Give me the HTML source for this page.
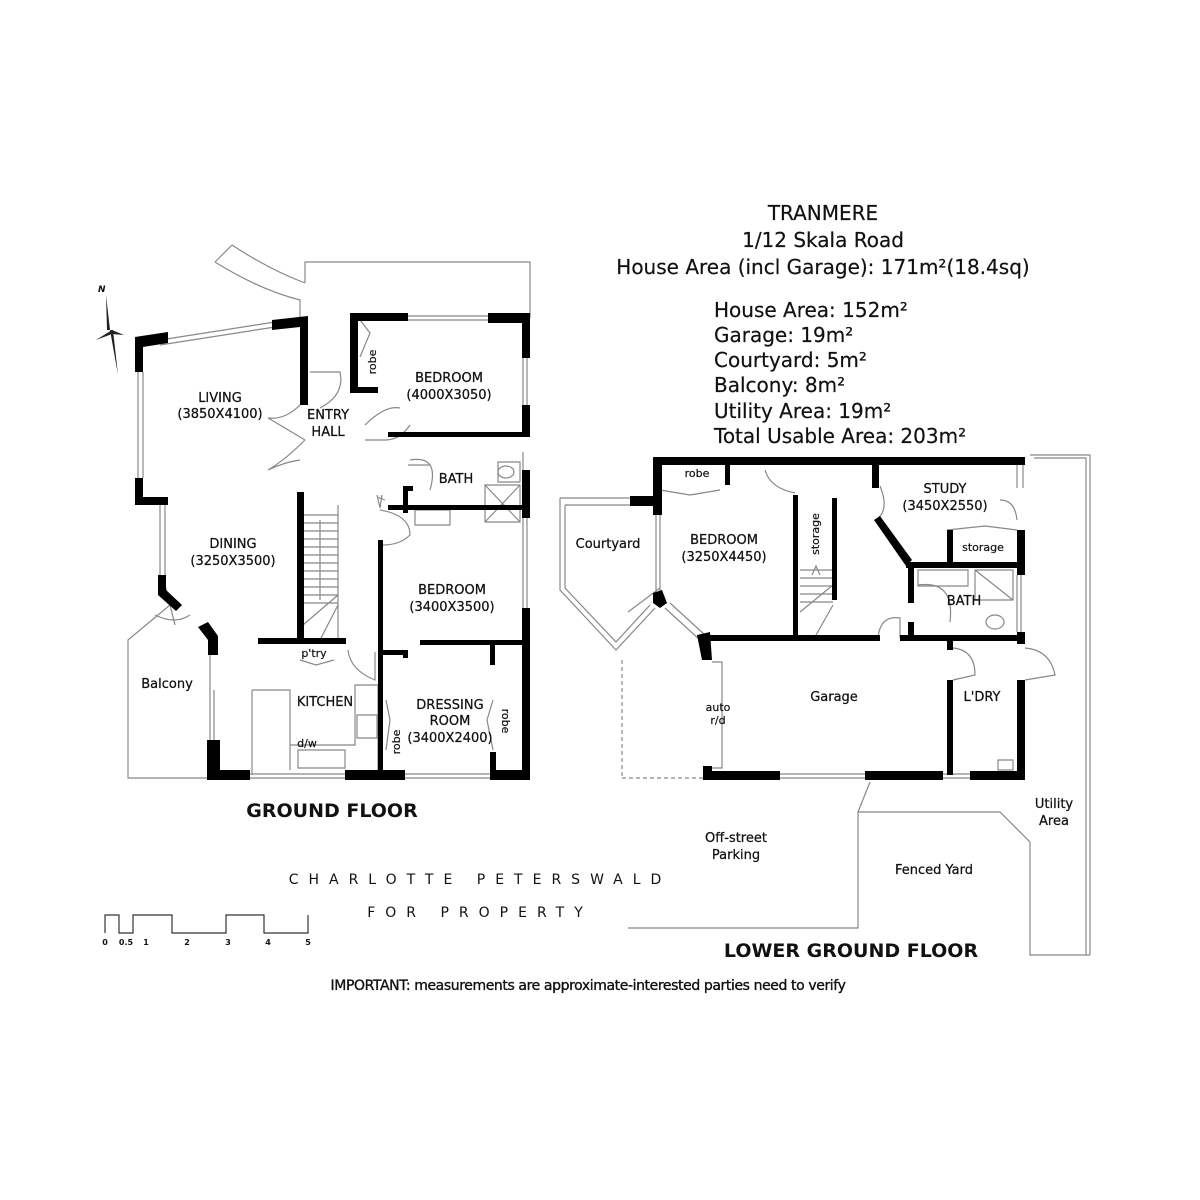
<!DOCTYPE html>
<html><head><meta charset="utf-8"><style>
html,body{margin:0;padding:0;background:#fff}
svg{display:block}
text{font-family:"DejaVu Sans","Liberation Sans",sans-serif;fill:#111}
.t{font-size:13px;stroke:#111;stroke-width:0.25}
.s{font-size:11px;stroke:#111;stroke-width:0.2}
.h{font-size:20px;stroke:#111;stroke-width:0.2}
</style></head><body>
<svg width="1200" height="1200" viewBox="0 0 1200 1200" xmlns="http://www.w3.org/2000/svg">
<rect width="1200" height="1200" fill="#fff"/>
<g fill="none" stroke="#888" stroke-width="1.2">
<path d="M215,262 L232,245 M215,262 Q260,290 300,300 L300,318 M232,245 Q270,270 305,283 M305,283 L305,262 L530,262 L530,318"/>
<path d="M160,340 L275,322 M160,345 L275,327"/>
<path d="M138,372 L138,478 M143,372 L143,478"/>
<path d="M160,505 L160,575 M165,505 L165,575"/>
<path d="M170,605 L128,640 L128,778 L210,778"/>
<path d="M210,652 L210,770 M214,690 L214,755"/>
<path d="M250,778 L345,778 M250,774 L345,774 M405,778 L490,778 M405,774 L490,774"/>
<path d="M405,320 L488,320 M405,316 L488,316 M523,358 L523,405 M527,358 L527,405 M523,518 L523,608 M527,518 L527,608 M523,452 L523,470"/>
<path d="M303,505 L303,640 M338,505 L338,640"/>
<path d="M303,515 L338,515 M303,523 L338,523 M303,531 L338,531 M303,539 L338,539 M303,547 L338,547 M303,555 L338,555 M303,563 L338,563 M303,571 L338,571 M303,579 L338,579 M303,587 L338,587 M303,595 L338,595 M303,603 L338,603 M303,625 L338,595 M320,640 L338,605 M320,520 L320,600"/>
<path d="M310,372 L340,372 Q345,395 320,408 M268,418 Q285,420 300,405 M268,418 Q285,428 305,440 M268,470 Q285,460 305,440 M268,470 Q285,462 300,460"/>
<path d="M365,425 Q385,405 400,408 M385,440 Q400,440 410,425 M365,440 L385,440"/>
<path d="M410,460 Q440,455 430,490 M408,465 L430,465"/>
<path d="M380,510 Q410,515 410,535 Q400,545 383,545"/>
<path d="M377,495 L380,508 L382,495 M377,497 L385,500"/>
<path d="M348,650 Q350,670 375,680 L375,652"/>
<path d="M300,660 L316,665 L334,660"/>
<path d="M155,615 Q175,625 190,615 M165,585 L175,625"/>
<path d="M386,700 L390,720 L386,750 M493,700 L487,720 L493,750"/>
<path d="M423,644 L440,644"/>
<path d="M360,320 L370,333 L360,357"/>
<path d="M252,690 L290,690 L290,770 M252,690 L252,775 M290,745 L355,745 L355,685 L378,685 L378,770 M298,750 L345,750 L345,768 L298,768 Z M357,715 L377,715 L377,738 L357,738 Z"/>
<path d="M498,462 L520,462 L520,482 L498,482 Z M485,485 L520,485 L520,522 L485,522 Z M485,485 L520,522 M520,485 L485,522 M415,510 L450,510 L450,525 L415,525 Z"/>
<ellipse cx="506" cy="472" rx="8" ry="6"/>
<path d="M560,498 L630,498 M565,505 L630,505 M560,498 L560,590 L616,650 L655,608 M565,505 L565,588 L616,642 L650,605"/>
<path d="M656,515 L656,595 M660,515 L660,595"/>
<path d="M665,608 L700,640 M670,603 L705,635"/>
<path d="M628,612 L660,588"/>
<path d="M622,660 L622,778 M622,778 L703,778" stroke-dasharray="4,3"/>
<path d="M712,662 L722,662 L722,768 L712,768"/>
<path d="M780,778 L865,778 M780,774 L865,774 M940,778 L970,778 M940,774 L970,774"/>
<path d="M870,782 L858,812 L858,928 L628,928 M858,812 L1000,812 L1030,842 L1030,955 L1090,955 M1030,455 L1090,455 L1090,955 M1034,458 L1086,458 L1086,955"/>
<path d="M1017,465 L1017,488 M1023,465 L1023,488 M1017,575 L1017,632 M1021,575 L1021,632"/>
<path d="M797,505 L797,635 M833,505 L833,600"/>
<path d="M800,570 L833,570 M800,578 L833,578 M800,586 L833,586 M800,594 L833,594 M800,602 L833,602 M800,612 L833,585 M816,635 L833,605 M812,575 L816,566 L820,575"/>
<path d="M660,490 L690,495 L720,490"/>
<path d="M765,470 Q770,488 795,493"/>
<path d="M880,486 Q890,510 876,520 M1000,500 Q1015,500 1017,520 M947,530 L985,526 L1017,530"/>
<path d="M918,585 Q955,580 950,622"/>
<path d="M878,638 Q880,615 900,618 L900,638"/>
<path d="M953,648 Q975,650 975,675 L953,680 M1025,648 Q1050,650 1055,675 L1025,680"/>
<path d="M918,570 L968,570 L968,586 L918,586 Z M975,570 L1013,570 L1013,600 L975,600 Z M975,570 L1013,600 M998,760 L1013,760 L1013,770 L998,770 Z"/>
<ellipse cx="995" cy="622" rx="9" ry="7"/>
<path d="M105,933 L105,915 L119,915 L119,933 L133,933 L133,915 L172,915 L172,933 L226,933 L226,915 L264,915 L264,933 L308,933 L308,915" stroke="#333"/>
</g>
<g fill="#222">
<polygon points="106,295 110,330 107,330"/>
<polygon points="110,330 113,330 118,375"/>
<polygon points="96,340 112,330 124,335 112,334"/>
</g>
<g fill="#000">
<polygon points="135,337 168,332 168,343 143,347 143,372 135,372"/>
<polygon points="272,320 308,316 308,405 300,405 300,327 272,330"/>
<polygon points="135,478 143,478 143,497 168,497 168,505 135,505"/>
<polygon points="158,575 166,575 166,590 182,605 176,611 158,595"/>
<polygon points="198,627 208,622 218,636 218,655 208,655 208,640"/>
<rect x="297" y="492" width="7" height="148"/>
<rect x="258" y="638" width="88" height="6"/>
<rect x="350" y="313" width="58" height="8"/>
<rect x="488" y="313" width="42" height="10"/>
<rect x="350" y="313" width="8" height="80"/>
<rect x="356" y="387" width="22" height="6"/>
<rect x="522" y="313" width="8" height="45"/>
<rect x="522" y="405" width="8" height="32"/>
<rect x="388" y="432" width="142" height="5"/>
<rect x="522" y="470" width="8" height="48"/>
<rect x="403" y="488" width="5" height="25"/>
<rect x="403" y="486" width="10" height="5"/>
<rect x="388" y="505" width="142" height="5"/>
<rect x="522" y="608" width="8" height="172"/>
<rect x="378" y="540" width="5" height="240"/>
<rect x="420" y="640" width="110" height="5"/>
<rect x="490" y="645" width="5" height="20"/>
<rect x="383" y="650" width="25" height="5"/>
<rect x="403" y="650" width="5" height="8"/>
<rect x="207" y="740" width="13" height="40"/>
<rect x="207" y="770" width="43" height="10"/>
<rect x="345" y="770" width="60" height="10"/>
<rect x="490" y="770" width="40" height="10"/>
<rect x="490" y="752" width="6" height="18"/>
<rect x="653" y="457" width="372" height="8"/>
<rect x="653" y="457" width="9" height="58"/>
<rect x="630" y="496" width="30" height="10"/>
<rect x="725" y="460" width="5" height="25"/>
<rect x="872" y="460" width="7" height="28"/>
<rect x="793" y="495" width="5" height="140"/>
<rect x="832" y="498" width="5" height="102"/>
<polygon points="874,520 880,516 912,560 906,566"/>
<rect x="906" y="562" width="117" height="6"/>
<rect x="947" y="530" width="6" height="35"/>
<rect x="1017" y="530" width="8" height="45"/>
<rect x="908" y="565" width="6" height="38"/>
<rect x="908" y="622" width="6" height="18"/>
<polygon points="653,593 662,590 667,603 660,608 653,603"/>
<polygon points="697,635 710,632 712,660 702,660"/>
<rect x="705" y="635" width="175" height="6"/>
<rect x="900" y="635" width="125" height="6"/>
<rect x="1017" y="632" width="8" height="12"/>
<rect x="947" y="640" width="6" height="10"/>
<rect x="947" y="680" width="6" height="95"/>
<rect x="1017" y="680" width="8" height="100"/>
<rect x="703" y="766" width="9" height="14"/>
<rect x="703" y="771" width="77" height="9"/>
<rect x="865" y="771" width="78" height="9"/>
<rect x="970" y="771" width="55" height="9"/>
</g>
<text x="98" y="292" font-size="9" font-style="italic" font-weight="bold" font-family="Liberation Serif">N</text>
<text class="t" x="220" y="402" text-anchor="middle">LIVING</text>
<text class="t" x="220" y="418" text-anchor="middle">(3850X4100)</text>
<text class="t" x="328" y="419" text-anchor="middle">ENTRY</text>
<text class="t" x="328" y="436" text-anchor="middle">HALL</text>
<text class="t" x="449" y="382" text-anchor="middle">BEDROOM</text>
<text class="t" x="449" y="399" text-anchor="middle">(4000X3050)</text>
<text class="s" transform="translate(376,362) rotate(-90)" text-anchor="middle">robe</text>
<text class="t" x="456" y="483" text-anchor="middle">BATH</text>
<text class="t" x="233" y="548" text-anchor="middle">DINING</text>
<text class="t" x="233" y="565" text-anchor="middle">(3250X3500)</text>
<text class="t" x="452" y="594" text-anchor="middle">BEDROOM</text>
<text class="t" x="452" y="611" text-anchor="middle">(3400X3500)</text>
<text class="s" x="314" y="657" text-anchor="middle">p'try</text>
<text class="t" x="167" y="688" text-anchor="middle">Balcony</text>
<text class="t" x="325" y="706" text-anchor="middle">KITCHEN</text>
<text class="s" x="307" y="747" text-anchor="middle">d/w</text>
<text class="t" x="450" y="709" text-anchor="middle">DRESSING</text>
<text class="t" x="450" y="725" text-anchor="middle">ROOM</text>
<text class="t" x="450" y="742" text-anchor="middle">(3400X2400)</text>
<text class="s" transform="translate(502,721) rotate(90)" text-anchor="middle">robe</text>
<text class="s" transform="translate(400,742) rotate(-90)" text-anchor="middle">robe</text>
<text x="332" y="817" text-anchor="middle" font-size="19" font-weight="bold">GROUND FLOOR</text>
<text class="h" x="823" y="220" text-anchor="middle">TRANMERE</text>
<text class="h" x="823" y="247" text-anchor="middle">1/12 Skala Road</text>
<text class="h" x="823" y="274" text-anchor="middle">House Area (incl Garage): 171m²(18.4sq)</text>
<text class="h" x="714" y="317">House Area: 152m²</text>
<text class="h" x="714" y="342">Garage: 19m²</text>
<text class="h" x="714" y="367">Courtyard: 5m²</text>
<text class="h" x="714" y="392">Balcony: 8m²</text>
<text class="h" x="714" y="418">Utility Area: 19m²</text>
<text class="h" x="714" y="443">Total Usable Area: 203m²</text>
<text class="s" x="697" y="477" text-anchor="middle">robe</text>
<text class="t" x="945" y="493" text-anchor="middle">STUDY</text>
<text class="t" x="945" y="510" text-anchor="middle">(3450X2550)</text>
<text class="t" x="608" y="548" text-anchor="middle">Courtyard</text>
<text class="t" x="724" y="544" text-anchor="middle">BEDROOM</text>
<text class="t" x="724" y="561" text-anchor="middle">(3250X4450)</text>
<text class="s" transform="translate(819,534) rotate(-90)" text-anchor="middle">storage</text>
<text class="s" x="983" y="551" text-anchor="middle">storage</text>
<text class="t" x="964" y="605" text-anchor="middle">BATH</text>
<text class="t" x="834" y="701" text-anchor="middle">Garage</text>
<text class="t" x="982" y="701" text-anchor="middle">L'DRY</text>
<text class="s" x="718" y="711" text-anchor="middle">auto</text>
<text class="s" x="718" y="724" text-anchor="middle">r/d</text>
<text class="t" x="736" y="842" text-anchor="middle">Off-street</text>
<text class="t" x="736" y="859" text-anchor="middle">Parking</text>
<text class="t" x="934" y="874" text-anchor="middle">Fenced Yard</text>
<text class="t" x="1054" y="808" text-anchor="middle">Utility</text>
<text class="t" x="1054" y="825" text-anchor="middle">Area</text>
<text x="851" y="957" text-anchor="middle" font-size="19" font-weight="bold">LOWER GROUND FLOOR</text>
<text x="480" y="884" text-anchor="middle" font-size="14" letter-spacing="10" fill="#333">CHARLOTTE  PETERSWALD</text>
<text x="480" y="917" text-anchor="middle" font-size="14" letter-spacing="10" fill="#333">FOR  PROPERTY</text>
<g font-size="8" font-weight="bold">
<text x="105" y="945" text-anchor="middle">0</text><text x="126" y="945" text-anchor="middle">0.5</text><text x="146" y="945" text-anchor="middle">1</text><text x="187" y="945" text-anchor="middle">2</text><text x="228" y="945" text-anchor="middle">3</text><text x="268" y="945" text-anchor="middle">4</text><text x="308" y="945" text-anchor="middle">5</text>
</g>
<text x="588" y="990" text-anchor="middle" font-size="14" letter-spacing="-0.4" stroke="#111" stroke-width="0.35">IMPORTANT: measurements are approximate-interested parties need to verify</text>
</svg>
</body></html>
